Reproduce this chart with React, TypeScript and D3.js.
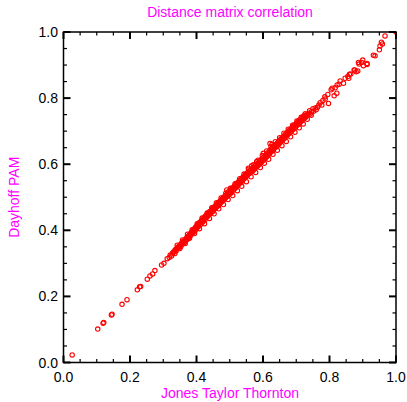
import React from "react";
import * as d3 from "d3";

const TITLE = "Distance matrix correlation";
const X_LABEL = "Jones Taylor Thornton";
const Y_LABEL = "Dayhoff PAM";
const MAJOR_TICKS = [0, 0.2, 0.4, 0.6, 0.8, 1.0];
const MINOR_TICKS = [0.05, 0.1, 0.15, 0.25, 0.3, 0.35, 0.45, 0.5, 0.55, 0.65, 0.7, 0.75, 0.85, 0.9, 0.95];

// [Jones Taylor Thornton, Dayhoff PAM]
const POINTS: [number, number][] = [
  [0.026,0.023],[0.103,0.101],[0.119,0.119],[0.121,0.121],[0.144,0.144],[0.146,0.146],[0.176,0.176],[0.191,0.190],[0.222,0.220],[0.229,0.229],[0.232,0.230],[0.252,0.252],[0.260,0.262],[0.268,0.268],[0.275,0.278],[0.295,0.295],[0.302,0.300],
  [0.312,0.314],[0.318,0.318],[0.321,0.325],[0.325,0.322],[0.328,0.331],[0.331,0.334],[0.334,0.336],[0.336,0.341],[0.339,0.338],[0.341,0.345],[0.343,0.349],[0.346,0.347],[0.348,0.352],[0.351,0.356],[0.353,0.351],[0.355,0.361],[0.357,0.358],[0.359,0.364],[0.361,0.367],[0.363,0.362],[0.365,0.371],[0.367,0.368],[0.369,0.374],[0.371,0.378],[0.372,0.372],[0.374,0.381],[0.376,0.377],[0.378,0.385],[0.380,0.388],[0.381,0.383],[0.383,0.391],[0.385,0.394],[0.386,0.389],[0.388,0.397],[0.390,0.393],[0.391,0.401],[0.393,0.404],[0.395,0.398],[0.396,0.407],[0.398,0.410],[0.400,0.404],[0.401,0.413],[0.403,0.416],[0.405,0.411],[0.406,0.419],[0.408,0.422],[0.410,0.415],[0.411,0.425],[0.413,0.419],[0.415,0.428],[0.416,0.431],[0.418,0.424],[0.420,0.434],[0.421,0.428],[0.423,0.437],[0.425,0.441],[0.426,0.433],[0.428,0.444],[0.430,0.439],[0.431,0.447],[0.433,0.442],[0.435,0.451],[0.437,0.446],[0.438,0.455],[0.440,0.449],[0.442,0.458],[0.444,0.453],[0.445,0.461],[0.447,0.465],[0.449,0.457],
  [0.451,0.468],[0.452,0.462],[0.454,0.471],[0.456,0.466],[0.458,0.475],[0.459,0.469],[0.461,0.478],[0.463,0.473],[0.465,0.482],[0.466,0.476],[0.468,0.486],[0.470,0.480],[0.472,0.489],[0.473,0.484],[0.475,0.493],[0.477,0.487],[0.479,0.497],[0.480,0.491],[0.482,0.500],[0.484,0.494],[0.486,0.504],[0.487,0.498],[0.489,0.507],[0.491,0.522],[0.492,0.502],[0.494,0.511],[0.496,0.517],[0.497,0.508],[0.499,0.514],[0.501,0.520],[0.503,0.512],[0.505,0.524],[0.506,0.517],[0.508,0.528],[0.510,0.521],[0.512,0.531],[0.514,0.525],[0.515,0.535],[0.517,0.529],[0.519,0.539],[0.521,0.532],[0.522,0.542],[0.524,0.536],[0.526,0.546],[0.528,0.540],[0.529,0.550],[0.531,0.544],[0.533,0.553],[0.535,0.547],[0.537,0.557],[0.538,0.551],[0.540,0.561],[0.542,0.555],[0.544,0.564],[0.545,0.558],[0.547,0.568],[0.549,0.562],[0.551,0.572],[0.552,0.566],[0.554,0.575],[0.556,0.588],[0.557,0.570],[0.559,0.579],[0.561,0.574],[0.563,0.583],[0.565,0.577],[0.566,0.595],[0.568,0.586],[0.570,0.581],[0.572,0.590],[0.574,0.585],[0.575,0.594],[0.577,0.589],[0.579,0.598],[0.581,0.608],[0.582,0.593],[0.584,0.602],[0.586,0.597],[0.588,0.606],[0.590,0.601],[0.591,0.610],[0.593,0.605],[0.595,0.614],[0.597,0.608],[0.599,0.618],
  [0.601,0.633],[0.601,0.612],[0.603,0.622],[0.605,0.616],[0.607,0.626],[0.609,0.620],[0.610,0.630],[0.612,0.624],[0.614,0.634],[0.616,0.628],[0.618,0.638],[0.619,0.632],[0.621,0.663],[0.621,0.642],[0.623,0.636],[0.625,0.646],[0.627,0.660],[0.627,0.640],[0.629,0.650],[0.631,0.644],[0.633,0.654],[0.634,0.648],[0.636,0.657],[0.638,0.651],[0.640,0.661],[0.642,0.655],[0.644,0.665],[0.645,0.659],[0.647,0.669],[0.649,0.663],[0.651,0.673],[0.653,0.667],[0.655,0.677],[0.656,0.671],[0.658,0.681],[0.660,0.675],[0.662,0.684],[0.664,0.678],[0.666,0.688],[0.667,0.682],[0.669,0.692],[0.671,0.686],[0.673,0.696],[0.675,0.690],[0.677,0.700],[0.678,0.693],[0.680,0.703],[0.682,0.697],[0.684,0.707],[0.686,0.701],[0.688,0.711],[0.690,0.705],[0.691,0.715],[0.693,0.708],[0.695,0.719],[0.697,0.712],[0.699,0.722],[0.701,0.716],[0.703,0.726],[0.705,0.720],[0.706,0.730],[0.708,0.724],[0.710,0.733],[0.712,0.727],[0.714,0.737],[0.716,0.731],[0.718,0.741],[0.720,0.735],[0.722,0.745],[0.724,0.738],[0.726,0.748],[0.728,0.742],[0.731,0.750],[0.734,0.747],[0.738,0.754],[0.742,0.752],[0.746,0.759],[0.752,0.760],[0.757,0.770],[0.764,0.772],[0.768,0.779],[0.777,0.779],
  [0.335,0.330],[0.342,0.355],[0.350,0.345],[0.358,0.371],[0.366,0.360],[0.373,0.388],[0.379,0.376],[0.387,0.402],[0.394,0.390],[0.402,0.420],[0.409,0.405],[0.417,0.437],[0.424,0.420],[0.432,0.452],[0.439,0.436],[0.446,0.468],[0.453,0.450],[0.460,0.483],[0.467,0.465],[0.474,0.498],[0.481,0.478],[0.488,0.512],[0.495,0.493],[0.502,0.527],[0.509,0.505],[0.516,0.541],[0.523,0.520],[0.530,0.556],[0.536,0.533],[0.543,0.570],[0.550,0.547],[0.558,0.585],[0.564,0.562],[0.571,0.598],[0.578,0.575],[0.585,0.612],[0.592,0.590],[0.598,0.626],[0.604,0.603],[0.611,0.640],[0.617,0.615],[0.624,0.653],[0.630,0.630],[0.637,0.668],[0.643,0.642],[0.650,0.680],[0.657,0.656],[0.663,0.694],[0.670,0.669],[0.676,0.706],[0.683,0.683],[0.689,0.718],[0.696,0.697],[0.702,0.731],[0.709,0.710],[0.715,0.742],[0.721,0.722],[0.727,0.753],[0.733,0.736],[0.740,0.762],[0.745,0.748],[0.750,0.768],[0.760,0.765],[0.772,0.786],[0.780,0.793],
  [0.786,0.804],[0.787,0.797],[0.795,0.811],[0.797,0.784],[0.805,0.825],[0.808,0.830],[0.814,0.807],[0.817,0.831],[0.822,0.815],[0.823,0.840],[0.829,0.842],[0.832,0.852],[0.842,0.845],[0.847,0.860],[0.855,0.865],[0.858,0.860],[0.860,0.872],[0.864,0.873],[0.874,0.885],[0.876,0.885],[0.880,0.880],[0.885,0.882],[0.887,0.908],[0.889,0.903],[0.897,0.908],[0.900,0.915],[0.902,0.898],[0.913,0.902],[0.913,0.905],[0.932,0.930],[0.937,0.928],[0.950,0.946],[0.952,0.958],[0.956,0.969],[0.959,0.964],[0.967,0.988],[1.0,1.0]
];

const W = 407, H = 402;
const L = 63.5, R = 396, T = 32, B = 362.5;
const MAGENTA = "#ff00ff";
const FONT = "'Liberation Sans', Arial, Helvetica, sans-serif";

export default function App() {
  const x = d3.scaleLinear().domain([0, 1]).range([L, R]);
  const y = d3.scaleLinear().domain([0, 1]).range([B, T]);
  const fmt = d3.format(".1f");
  const MAJ = 7, MIN = 3.5;
  return (
    <svg width={W} height={H} style={{ position: "absolute", left: 0, top: 0, background: "#fff" }}>
      <defs>
        <clipPath id="plotclip">
          <rect x={L} y={T} width={R - L} height={B - T} />
        </clipPath>
      </defs>
      <rect x={0} y={0} width={W} height={H} fill="#fff" />
      <g clipPath="url(#plotclip)">
        {POINTS.map((p, i) => (
          <circle key={i} cx={x(p[0])} cy={y(p[1])} r={2.2} fill="none" stroke="#ff0000" strokeWidth={1.1} />
        ))}
      </g>
      <rect x={L} y={T} width={R - L} height={B - T} fill="none" stroke="#000" strokeWidth={1.5} />
      {MAJOR_TICKS.map((t) => (
        <g key={"M" + t} stroke="#000" strokeWidth={2}>
          <line x1={x(t)} x2={x(t)} y1={B} y2={B - MAJ} />
          <line x1={x(t)} x2={x(t)} y1={T} y2={T + MAJ} />
          <line y1={y(t)} y2={y(t)} x1={L} x2={L + MAJ} />
          <line y1={y(t)} y2={y(t)} x1={R} x2={R - MAJ} />
        </g>
      ))}
      {MINOR_TICKS.map((t) => (
        <g key={"m" + t} stroke="#000" strokeWidth={1.2}>
          <line x1={x(t)} x2={x(t)} y1={B} y2={B - MIN} />
          <line x1={x(t)} x2={x(t)} y1={T} y2={T + MIN} />
          <line y1={y(t)} y2={y(t)} x1={L} x2={L + MIN} />
          <line y1={y(t)} y2={y(t)} x1={R} x2={R - MIN} />
        </g>
      ))}
      {MAJOR_TICKS.map((t) => (
        <text key={"xl" + t} x={x(t)} y={382} textAnchor="middle" fontFamily={FONT} fontSize={14} fill="#000">
          {fmt(t)}
        </text>
      ))}
      {MAJOR_TICKS.map((t) => (
        <text key={"yl" + t} x={58} y={y(t) + 5} textAnchor="end" fontFamily={FONT} fontSize={14} fill="#000">
          {fmt(t)}
        </text>
      ))}
      <text x={230} y={17} textAnchor="middle" fontFamily={FONT} fontSize={14} fill={MAGENTA}>{TITLE}</text>
      <text x={230} y={398} textAnchor="middle" fontFamily={FONT} fontSize={14} fill={MAGENTA}>{X_LABEL}</text>
      <text transform={`translate(19,${(T + B) / 2}) rotate(-90)`} textAnchor="middle" fontFamily={FONT} fontSize={14} fill={MAGENTA}>{Y_LABEL}</text>
    </svg>
  );
}
